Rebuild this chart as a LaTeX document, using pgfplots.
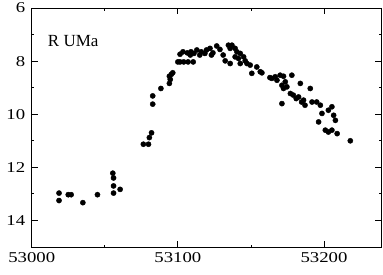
\documentclass[border=0pt]{standalone}
\usepackage{fontspec}
\setmainfont{Liberation Serif}
\newfontfamily\tickfont[FakeStretch=1.25]{Liberation Serif}
\usepackage{pgfplots}
\pgfplotsset{compat=1.18}
\pgfplotstableread{
x y
53018.7 12.97
53018.7 13.25
53025 13.03
53027 13.03
53035 13.33
53045 13.03
53055.5 12.22
53056 12.40
53056 12.70
53056 12.97
53060.5 12.83
53076.4 11.13
53079.9 11.13
53080.5 10.88
53082 10.70
53082.8 9.62
53082.8 9.31
53088.4 9.03
53094.2 8.84
53094.8 8.69
53094.2 8.57
53096.5 8.44
53095.5 8.50
53100 8.03
53101.5 8.03
53104 8.03
53107 8.03
53110.5 8.03
53101.5 7.74
53103.5 7.65
53106.5 7.69
53108.5 7.77
53109 7.65
53111 7.71
53113 7.58
53115 7.77
53116 7.65
53118.5 7.71
53119.6 7.58
53122 7.52
53123 7.77
53124 7.69
53126.6 7.43
53128.8 7.56
53131 7.77
53132.4 7.99
53135.8 8.09
53134.6 7.40
53137 7.40
53135.8 7.52
53139.2 7.52
53140.4 7.65
53139.2 7.84
53141.5 7.90
53142.7 7.71
53145 7.84
53146.1 7.99
53142.7 8.09
53147.3 8.09
53149.5 8.15
53150.6 8.46
53154 8.22
53156.4 8.40
53157.5 8.44
53163 8.62
53164.3 8.65
53166.6 8.59
53167.8 8.72
53170 8.53
53172.3 8.57
53173.5 8.78
53171.2 8.91
53174.6 8.97
53172.3 9.03
53178 8.53
53183.8 8.84
53190.6 9.03
53171.2 9.60
53177 9.22
53179 9.28
53181 9.41
53182.6 9.35
53184.7 9.54
53186 9.47
53187 9.66
53191.8 9.54
53195 9.54
53197.5 9.66
53198.6 9.97
53196.3 10.29
53203 9.85
53205.4 9.72
53206.6 10.04
53207.8 10.23
53200.9 10.60
53203 10.67
53205.4 10.60
53209 10.73
53218 11.00
}\rumadata
\begin{document}
\begin{tikzpicture}
\path[use as bounding box] (-31.7bp,-28bp) rectangle (351.3bp,247bp);
\begin{axis}[
  at={(0,0)}, anchor=south west,
  scale only axis, width=349.3bp, height=239bp,
  xmin=53000, xmax=53239, ymin=6, ymax=15, y dir=reverse,
  scaled x ticks=false, scaled y ticks=false,
  xtick={53000,53100,53200}, xticklabels={53000,53100,53200},
  minor xtick={53050,53150},
  ytick={6,8,10,12,14}, yticklabels={6,8,10,12,14},
  minor ytick={7,9,11,13},
  tick align=inside, major tick length=6bp, minor tick length=2.5bp,
  tick style={black, line width=0.8bp},
  axis line style={line width=0.9bp},
  ticklabel style={font=\tickfont\fontsize{15bp}{15bp}\selectfont},
  xticklabel style={yshift=-2bp},
  yticklabel style={xshift=-3bp},
  clip=false,
]
\addplot[only marks, mark=*, mark size=2.6bp, black] table[x=x, y=y] {\rumadata};
\node[anchor=west, inner sep=0pt, font=\fontsize{17bp}{17bp}\selectfont] at (axis cs:53011,7.25) {R UMa};
\end{axis}
\end{tikzpicture}
\end{document}
